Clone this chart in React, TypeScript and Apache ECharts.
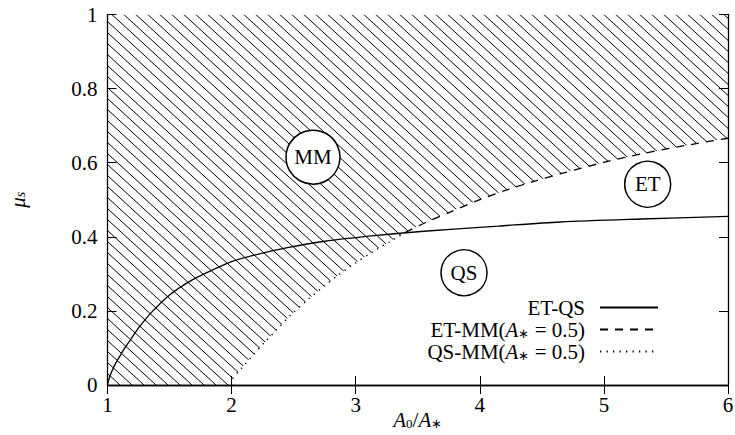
import React, { useEffect, useRef } from "react";
import * as echarts from "echarts";

// ---- data ----
const etQsX = [1.0, 1.01, 1.03, 1.06, 1.1, 1.14, 1.18, 1.26, 1.36, 1.5, 1.68, 1.87, 2.0, 2.2, 2.45, 2.75, 3.15, 3.55, 4.15, 4.65, 5.3, 6.0];
const etQsY = [0.0, 0.014, 0.033, 0.055, 0.078, 0.1, 0.12, 0.158, 0.198, 0.243, 0.283, 0.314, 0.333, 0.352, 0.371, 0.388, 0.403, 0.415, 0.429, 0.44, 0.448, 0.455];

const qsMmX = [2.0, 2.01, 2.08, 2.16, 2.27, 2.36, 2.48, 2.62, 2.75, 2.86, 2.97, 3.13, 3.29, 3.4];
const qsMmY = [0.0, 0.018, 0.045, 0.076, 0.117, 0.148, 0.19, 0.232, 0.268, 0.297, 0.323, 0.358, 0.39, 0.412];

const etMmX = [3.4, 3.56, 3.77, 3.99, 4.23, 4.45, 4.66, 5.0, 5.32, 5.65, 6.0];
const etMmY = [0.412, 0.438, 0.468, 0.499, 0.528, 0.551, 0.571, 0.601, 0.625, 0.646, 0.666];

const mmFloorX = [1.0, 2.0];
const mmFloorY = [0.0, 0.0];

const regionLabels = ["MM", "ET", "QS"];
const regionX = [2.656, 5.353, 3.873];
const regionY = [0.615, 0.542, 0.303];
const regionSize = [54, 46, 46];

const seriesNames = ["ET-QS", "ET-MM(A* = 0.5)", "QS-MM(A* = 0.5)"];
const legendRich: Record<string, string> = {
  "ET-QS": "ET-QS",
  "ET-MM(A* = 0.5)": "ET-MM({i|A}{s|∗} = 0.5)",
  "QS-MM(A* = 0.5)": "QS-MM({i|A}{s|∗} = 0.5)",
};

const FONT = "Liberation Serif";
const FS = 21;

function pairs(xs: number[], ys: number[]) {
  return xs.map((x, i) => [x, ys[i]]);
}

function hatchPattern() {
  const a = 12;
  const b = 11;
  let d = "";
  for (let k = -1; k <= 1; k++) {
    d += `M${k * a - 1},${-b / a} L${k * a + a + 1},${b + b / a} `;
  }
  const svg = `<svg xmlns="http://www.w3.org/2000/svg" width="${a}" height="${b}"><path d="${d}" stroke="#000" stroke-width="1" fill="none"/></svg>`;
  return {
    image: "data:image/svg+xml;charset=utf-8," + encodeURIComponent(svg),
    repeat: "repeat",
    imageWidth: a,
    imageHeight: b,
  };
}

export default function App() {
  const ref = useRef<HTMLDivElement>(null);

  useEffect(() => {
    if (!ref.current) return;
    const chart = echarts.init(ref.current, null, { renderer: "svg" });

    const fillData = [
      ...pairs(mmFloorX, mmFloorY),
      ...pairs(qsMmX, qsMmY).slice(1),
      ...pairs(etMmX, etMmY).slice(1),
    ];

    const axisCommon = {
      axisLine: { show: true, lineStyle: { color: "#000", width: 1.3 } },
      axisTick: { show: true, inside: true, length: 9, lineStyle: { color: "#000", width: 1 } },
      splitLine: { show: false },
    };

    const richText = {
      i: { fontStyle: "italic", fontSize: FS, fontFamily: FONT, color: "#000", lineHeight: 19 },
      n: { fontSize: FS, fontFamily: FONT, color: "#000", lineHeight: 19 },
      s: { fontSize: 13, fontFamily: FONT, color: "#000", verticalAlign: "bottom", lineHeight: 8 },
      si: { fontSize: 14, fontStyle: "italic", fontFamily: FONT, color: "#000", verticalAlign: "bottom", lineHeight: 8 },
    };

    const lineCommon = {
      type: "line",
      symbol: "none",
      smooth: 0.3,
      itemStyle: { color: "#000" },
      z: 3,
    };

    chart.setOption({
      animation: false,
      backgroundColor: "#fff",
      textStyle: { fontFamily: FONT },
      grid: {
        left: 107.5,
        right: 7,
        top: 14.5,
        bottom: 50,
        containLabel: false,
        outerBoundsMode: "none",
      },
      xAxis: [
        {
          type: "value",
          min: 1,
          max: 6,
          interval: 1,
          position: "bottom",
          ...axisCommon,
          axisLabel: { show: true, margin: 9, fontSize: FS, fontFamily: FONT, color: "#000" },
          name: "{i|A}{s|0}/{i|A}{s|∗}",
          nameLocation: "middle",
          nameGap: 24,
          nameMoveOverlap: false,
          nameTextStyle: { fontSize: FS, fontFamily: FONT, color: "#000", rich: richText },
        },
        {
          type: "value",
          min: 1,
          max: 6,
          interval: 1,
          position: "top",
          ...axisCommon,
          axisLabel: { show: false },
        },
      ],
      yAxis: [
        {
          type: "value",
          min: 0,
          max: 1,
          interval: 0.2,
          position: "left",
          ...axisCommon,
          axisLabel: { show: true, margin: 10, fontSize: FS, fontFamily: FONT, color: "#000" },
          name: "{i|μ}{si|s}",
          nameLocation: "middle",
          nameRotate: 90,
          nameGap: 80,
          nameMoveOverlap: false,
          nameTextStyle: { fontSize: FS, fontFamily: FONT, color: "#000", rich: richText },
        },
        {
          type: "value",
          min: 0,
          max: 1,
          interval: 0.2,
          position: "right",
          ...axisCommon,
          axisLabel: { show: false },
        },
      ],
      legend: {
        data: seriesNames,
        orient: "vertical",
        align: "right",
        right: 76,
        top: 297,
        padding: 0,
        itemWidth: 58,
        itemHeight: 10,
        itemGap: 1,
        selectedMode: false,
        itemStyle: { opacity: 0 },
        formatter: (name: string) => legendRich[name] || name,
        textStyle: {
          fontSize: FS,
          fontFamily: FONT,
          color: "#000",
          lineHeight: 20,
          padding: [0, 10, 0, 0],
          rich: richText,
        },
      },
      series: [
        {
          name: "MM region",
          type: "line",
          data: fillData,
          symbol: "none",
          smooth: 0.3,
          silent: true,
          lineStyle: { width: 0, opacity: 0 },
          areaStyle: { origin: "end", color: hatchPattern(), opacity: 1 },
          z: 1,
        },
        {
          ...lineCommon,
          name: seriesNames[0],
          data: pairs(etQsX, etQsY),
          lineStyle: { color: "#000", width: 1.3, type: "solid" },
        },
        {
          ...lineCommon,
          name: seriesNames[1],
          data: pairs(etMmX, etMmY),
          lineStyle: { color: "#000", width: 1.3, type: [8, 7] },
        },
        {
          ...lineCommon,
          name: seriesNames[2],
          data: pairs(qsMmX, qsMmY),
          lineStyle: { color: "#000", width: 1.4, type: [1.3, 5.2] },
        },
        {
          name: "regions",
          type: "scatter",
          data: regionLabels.map((n, i) => ({
            name: n,
            value: [regionX[i], regionY[i]],
            symbolSize: regionSize[i],
          })),
          symbol: "circle",
          itemStyle: { color: "#fff", borderColor: "#000", borderWidth: 1.5, opacity: 1 },
          label: {
            show: true,
            position: "inside",
            formatter: "{b}",
            fontSize: FS,
            fontFamily: FONT,
            color: "#000",
          },
          silent: true,
          z: 10,
        },
      ],
    });

    return () => chart.dispose();
  }, []);

  return (
    <div
      ref={ref}
      style={{ position: "fixed", left: 0, top: 0, width: 735, height: 435, background: "#fff" }}
    />
  );
}
